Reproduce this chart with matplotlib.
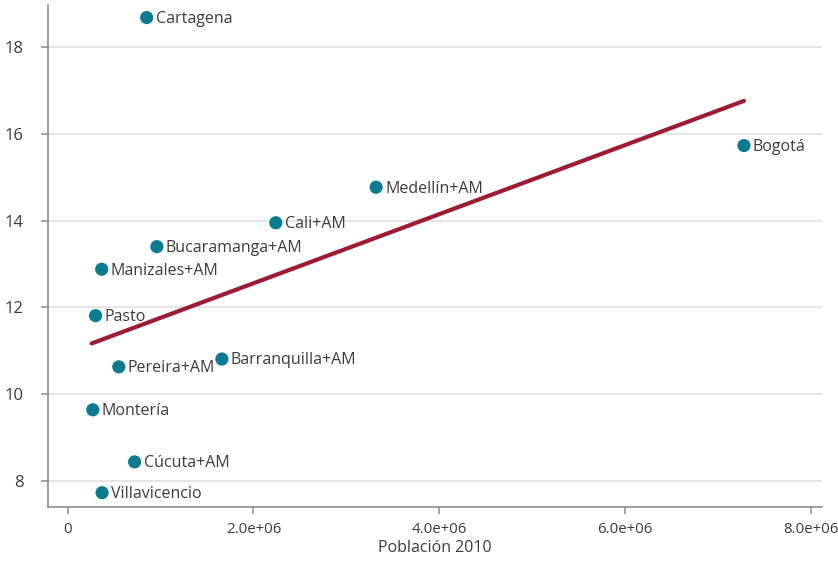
import matplotlib
matplotlib.use("Agg")
import matplotlib.pyplot as plt
from matplotlib.ticker import FuncFormatter

# Población 2010 vs. indicador por ciudad
ciudades = ["Cartagena", "Bogotá", "Medellín+AM", "Cali+AM", "Bucaramanga+AM",
            "Manizales+AM", "Pasto", "Pereira+AM", "Barranquilla+AM", "Montería",
            "Cúcuta+AM", "Villavicencio"]
poblacion = [0.85e6, 7.28e6, 3.32e6, 2.24e6, 0.96e6,
             0.366e6, 0.30e6, 0.55e6, 1.66e6, 0.27e6,
             0.72e6, 0.37e6]
valor = [18.68, 15.73, 14.77, 13.95, 13.40,
         12.88, 11.81, 10.63, 10.81, 9.64,
         8.44, 7.73]

# recta de tendencia (extremos)
tendencia_x = [0.258e6, 7.28e6]
tendencia_y = [11.17, 16.76]

y_ticks = [8, 10, 12, 14, 16, 18]
x_ticks = [0, 2e6, 4e6, 6e6, 8e6]

TEAL = "#0b7b90"
CRIMSON = "#9d1c34"
TEXT = "#3c3c3c"

plt.rcParams["font.family"] = ["Open Sans", "DejaVu Sans"]

fig = plt.figure(figsize=(8.38, 5.65), dpi=100)
ax = fig.add_axes([48.3 / 838, 58 / 565, (822 - 48.3) / 838, (560 - 58) / 565])

ax.plot(tendencia_x, tendencia_y, color=CRIMSON, linewidth=3, solid_capstyle="round", zorder=3)
ax.scatter(poblacion, valor, s=90, color=TEAL, edgecolors="none", zorder=4)
for nombre, x, y in zip(ciudades, poblacion, valor):
    ax.annotate(nombre, (x, y), xytext=(6.5, -1), textcoords="offset points",
                va="center", ha="left", fontsize=11.5, color=TEXT, zorder=5)

ax.set_xlim(-0.209e6, 8.12e6)
ax.set_ylim(7.40, 18.97)
ax.set_yticks(y_ticks)
ax.set_xticks(x_ticks)
ax.xaxis.set_major_formatter(FuncFormatter(lambda v, _: "0" if v == 0 else f"{v:.1e}"))

ax.grid(True, axis="y", color="#e0e0e0", linewidth=1.2)
ax.set_axisbelow(True)
for side in ["top", "right"]:
    ax.spines[side].set_visible(False)
for side in ["left", "bottom"]:
    ax.spines[side].set_color("#8c8c8c")
    ax.spines[side].set_linewidth(1.2)

ax.tick_params(axis="y", length=5, width=1.1, color="#8c8c8c", pad=13, labelsize=12, labelcolor=TEXT)
ax.tick_params(axis="x", length=5, width=1.1, color="#8c8c8c", pad=6, labelsize=10.8, labelcolor=TEXT)
ax.set_xlabel("Población 2010", fontsize=11.5, color=TEXT, labelpad=2)

fig.savefig("out.png", dpi=100)
